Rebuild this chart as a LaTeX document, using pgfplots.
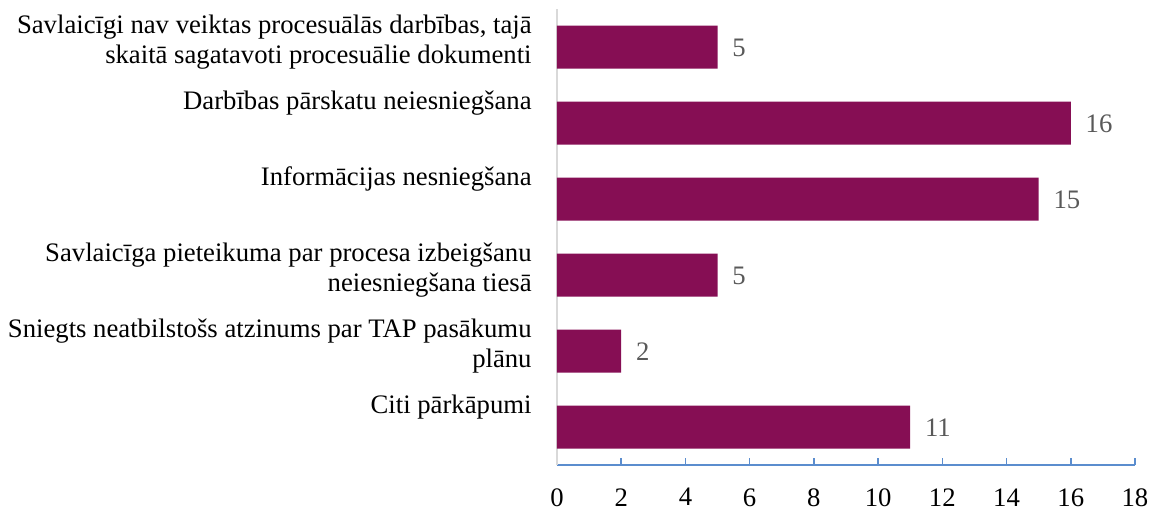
\documentclass[border=0pt]{standalone}
\usepackage{fontspec}
\setmainfont{Liberation Serif}
\usepackage{pgfplots}
\pgfplotsset{compat=1.18}
\definecolor{barc}{RGB}{134,14,84}
\definecolor{axblue}{RGB}{91,141,206}
\definecolor{axgray}{RGB}{217,217,217}
\definecolor{lblgray}{RGB}{89,89,89}
\newcommand{\lblfont}{\fontsize{13.35pt}{15pt}\selectfont}
\begin{document}
\begin{tikzpicture}
\begin{axis}[
  scale only axis, width=289pt, height=228pt,
  xmin=0, xmax=18, ymin=-0.5, ymax=5.5, y dir=reverse,
  axis x line=bottom, axis y line=left,
  x axis line style={axblue, line width=0.75pt, -},
  y axis line style={axgray, line width=0.6pt, -},
  xtick={0,2,...,18}, ytick={0,...,5},
  tick align=inside, major tick length=3.5pt,
  xtick style={axblue, line width=0.75pt},
  ytick style={draw=none},
  xticklabel style={font=\lblfont, inner sep=0pt, anchor=north, yshift=-11.5pt},
  yticklabel style={font=\lblfont, inner sep=0pt, anchor=base east, xshift=-9pt, yshift=7pt},
  yticklabels={
    {\begin{tabular}[t]{@{}r@{}}Savlaicīgi nav veiktas procesuālās darbības, tajā\\skaitā sagatavoti procesuālie dokumenti\end{tabular}},
    {Darbības pārskatu neiesniegšana},
    {Informācijas nesniegšana},
    {\begin{tabular}[t]{@{}r@{}}Savlaicīga pieteikuma par procesa izbeigšanu\\neiesniegšana tiesā\end{tabular}},
    {\begin{tabular}[t]{@{}r@{}}Sniegts neatbilstošs atzinums par TAP pasākumu\\plānu\end{tabular}},
    {Citi pārkāpumi}},
  /pgf/number format/assume math mode=true,
  xbar, bar width=21.5pt,
  nodes near coords,
  nodes near coords style={font=\lblfont, text=lblgray, anchor=west, inner sep=0pt, xshift=7.25pt, yshift=-0.5pt},
  clip=false,
]
\addplot[fill=barc, draw=none] coordinates {(5,0) (16,1) (15,2) (5,3) (2,4) (11,5)};
\end{axis}
\path (current axis.south west) ++(-278.5pt,-22.5pt) rectangle ++(575.5pt,255pt);
\end{tikzpicture}
\end{document}
